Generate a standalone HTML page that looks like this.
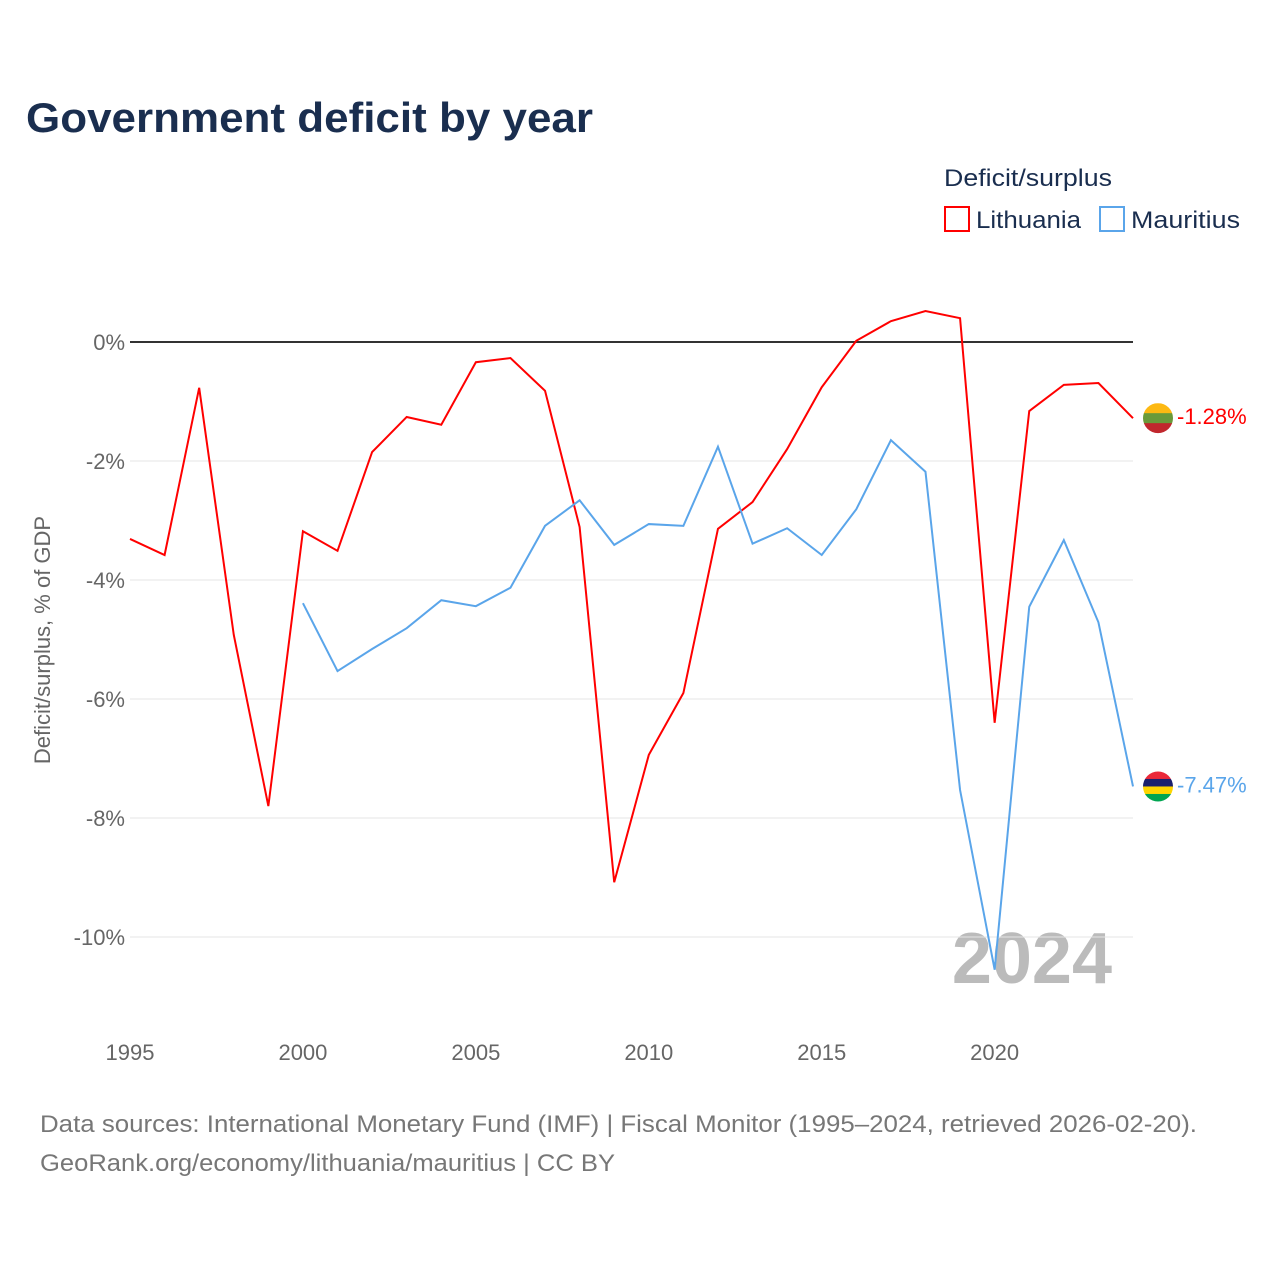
<!DOCTYPE html>
<html><head><meta charset="utf-8"><style>
body{margin:0;background:#fff;font-family:"Liberation Sans",sans-serif}
svg text{font-family:"Liberation Sans",sans-serif}
</style></head><body>
<svg id="c" width="1280" height="1280" xmlns="http://www.w3.org/2000/svg">
<text x="26" y="132" font-size="42" font-weight="bold" fill="#1a2e4f" textLength="567" lengthAdjust="spacingAndGlyphs">Government deficit by year</text>
<text x="944" y="186" font-size="24" fill="#1a2e4f" textLength="168" lengthAdjust="spacingAndGlyphs">Deficit/surplus</text>
<g><rect x="945" y="207" width="24" height="24" fill="none" stroke="#f00" stroke-width="2"/><text x="976" y="228" font-size="24" fill="#1a2e4f" textLength="105" lengthAdjust="spacingAndGlyphs">Lithuania</text></g>
<g><rect x="1100" y="207" width="24" height="24" fill="none" stroke="#5aa5ea" stroke-width="2"/><text x="1131" y="228" font-size="24" fill="#1a2e4f" textLength="109" lengthAdjust="spacingAndGlyphs">Mauritius</text></g>
<text transform="translate(50,640) rotate(-90)" text-anchor="middle" font-size="22" fill="#666">Deficit/surplus, % of GDP</text>
<text x="1112" y="983" text-anchor="end" font-size="72" font-weight="bold" fill="#bbb">2024</text>
<g id="grid"></g><g id="lines"></g>
<text x="40" y="1132" font-size="24" fill="#777" textLength="1157" lengthAdjust="spacingAndGlyphs">Data sources: International Monetary Fund (IMF) | Fiscal Monitor (1995–2024, retrieved 2026-02-20).</text>
<text x="40" y="1171" font-size="24" fill="#777" textLength="575" lengthAdjust="spacingAndGlyphs">GeoRank.org/economy/lithuania/mauritius | CC BY</text>
</svg>
<script>
const years=[];for(let y=1995;y<=2024;y++)years.push(y);
const lithuania=[-3.31,-3.58,-0.77,-4.92,-7.80,-3.18,-3.51,-1.85,-1.26,-1.39,-0.34,-0.27,-0.82,-3.11,-9.08,-6.94,-5.90,-3.14,-2.69,-1.80,-0.76,0.02,0.35,0.52,0.40,-6.40,-1.16,-0.72,-0.69,-1.28];
const mauritius=[null,null,null,null,null,-4.39,-5.53,-5.16,-4.81,-4.34,-4.44,-4.13,-3.09,-2.66,-3.41,-3.06,-3.09,-1.76,-3.39,-3.13,-3.58,-2.81,-1.65,-2.18,-7.53,-10.55,-4.45,-3.33,-4.71,-7.47];
const yTicks=[0,-2,-4,-6,-8,-10];
const xTicks=[1995,2000,2005,2010,2015,2020];
const X=y=>130+(y-1995)*(1133-130)/29;
const Y=v=>342-v*59.5;
const NS="http://www.w3.org/2000/svg";
const g=document.getElementById('grid'),L=document.getElementById('lines');
function mk(tag,attrs,parent){const e=document.createElementNS(NS,tag);for(const k in attrs)e.setAttribute(k,attrs[k]);parent.appendChild(e);return e;}
yTicks.forEach(v=>{
 const l=mk('line',{x1:130,x2:1133,y1:Y(v),y2:Y(v),stroke:v===0?'#333':'#e6e6e6','stroke-width':v===0?2:1},g);
 
 
 const t=mk('text',{x:125,y:Y(v)+8,'text-anchor':'end','font-size':22,fill:'#666'},g);t.textContent=v+'%';
 
 
});
xTicks.forEach(y=>{
 const t=mk('text',{x:X(y),y:1060,'text-anchor':'middle','font-size':22,fill:'#666'},g);t.textContent=y;
 
 
});
function series(vals,color,name,flagCols){
 let d='';vals.forEach((v,i)=>{if(v===null)return;d+=(d?'L':'M')+X(years[i])+','+Y(v);});
 const p=mk('path',{d:d,fill:'none',stroke:color,'stroke-width':2},L);
 
 
 const last=vals[vals.length-1],cy=Y(last),cx=1158;
 const fg=mk('g',{},L);
 
 
 const n=flagCols.length,h=30/n;
 const cp=mk('clipPath',{id:'cp'+name},fg);mk('circle',{cx:cx,cy:cy,r:15},cp);
 flagCols.forEach((c,i)=>mk('rect',{x:cx-15,y:cy-15+i*h,width:30,height:h+0.5,fill:c,'clip-path':'url(#cp'+name+')'},fg));
 const t=mk('text',{x:1177,y:cy+6,'font-size':22,fill:color},L);t.textContent=last.toFixed(2)+'%';
 
 
}
series(lithuania,'#f00','lithuania',['#fdb913','#6a9a3a','#c1272d']);
series(mauritius,'#5aa5ea','mauritius',['#ea2839','#1a206d','#ffd500','#00a551']);
</script>
</body></html>
